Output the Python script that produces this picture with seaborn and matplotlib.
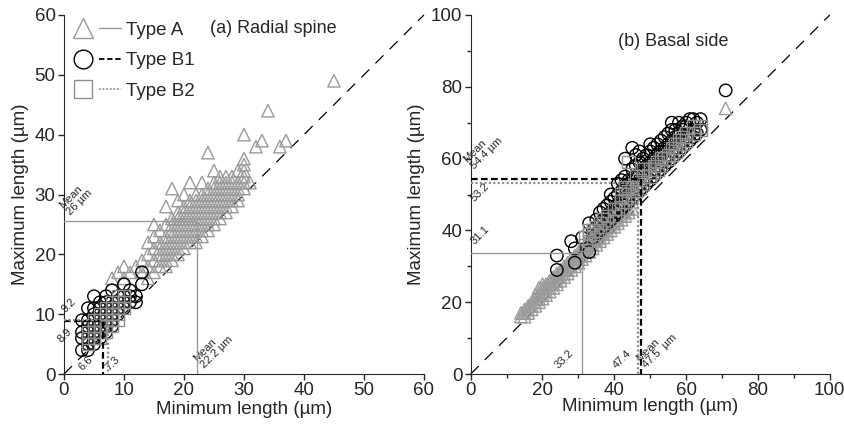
"""
Min vs max length scatter, radial spine (a) and basal side (b).
Type A / B1 / B2 with mean lines.
"""
import pandas as pd
import seaborn as sns
import matplotlib.pyplot as plt
from matplotlib.lines import Line2D
from matplotlib.legend_handler import HandlerTuple

# (a) Radial spine: min length columns and the max lengths read at each column
a_A_min = [8, 9, 10, 11, 12, 13, 14, 15, 16, 17, 18, 19, 20, 21, 22, 23, 24, 25, 26,
           27, 28, 29, 30, 31, 32, 33, 34, 36, 37, 45]
a_A_max = [[16], [17], [16, 18], [17], [18], [17, 19], [16, 18, 20, 22],
           [17, 19, 21, 23, 25], [18, 19, 20, 21, 22, 24],
           [18, 19, 20, 21, 22, 23, 25, 28], [19, 20, 21, 22, 23, 24, 25, 26, 31],
           [20, 21, 22, 23, 24, 25, 26, 27, 29], [21, 22, 23, 24, 25, 26, 27, 28, 30],
           [22, 23, 24, 25, 26, 27, 28, 29, 32], [22, 23, 24, 25, 26, 27, 28, 29, 30],
           [23, 24, 25, 26, 27, 28, 29, 30, 32], [24, 25, 26, 27, 28, 29, 30, 31, 37],
           [25, 26, 27, 28, 29, 30, 31, 32, 34], [26, 27, 28, 29, 30, 31, 32, 33],
           [27, 28, 29, 30, 31, 32, 33], [28, 29, 30, 31, 32, 33], [29, 30, 31, 32, 34],
           [31, 32, 33, 34, 35, 36, 40], [32], [38], [39], [44], [38], [39], [49]]

a_B1_min = [3, 4, 5, 6, 7, 8, 9, 10, 11, 12, 13]
a_B1_max = [[4, 6, 7, 9], [4, 5, 6, 7, 8, 9, 11], [5, 6, 7, 8, 9, 10, 11, 13],
            [6, 7, 8, 9, 10, 11, 12], [7, 8, 9, 10, 11, 12, 13], [8, 9, 10, 11, 12, 14],
            [10, 11, 12, 13], [11, 12, 13, 15], [12, 13, 14], [12, 13], [15, 17]]

a_B2_min = [4, 5, 6, 7, 8, 9, 10]
a_B2_max = [[5, 6, 7], [6, 7, 8, 9], [6, 7, 8, 9, 10], [7, 8, 9, 10, 11],
            [8, 9, 10, 11, 12], [9, 10, 11, 12, 13], [11, 12, 13]]

# (b) Basal side
b_A_min = [14, 15, 16, 17, 18, 19, 20, 21, 22, 23, 24, 25, 26, 27, 28, 29, 30, 31, 32,
           33, 34, 35, 36, 37, 38, 39, 40, 41, 42, 43, 44, 45, 71]
b_A_max = [[16, 17], [16, 17, 18], [17, 18, 19], [18, 19, 20], [19, 20, 21, 22],
           [20, 21, 22, 24], [21, 22, 23, 24, 25], [22, 23, 24, 25], [23, 24, 25, 26],
           [24, 25, 26, 27], [25, 26, 27, 28], [26, 27, 28, 29], [27, 28, 29, 30],
           [28, 29, 30, 31], [29, 30, 31, 32], [30, 31, 32, 33], [31, 32, 33, 34],
           [32, 33, 34, 35], [33, 34, 35, 36], [34, 35, 36, 37], [35, 36, 37, 38],
           [36, 37, 38, 39], [37, 38, 39, 40], [38, 39, 40, 41], [39, 40, 41, 42],
           [40, 41, 42, 43], [41, 42, 43], [42, 43, 44], [43, 44, 45], [44, 45, 46],
           [45, 46], [46, 48], [74]]

b_B1_min = [24, 28, 29, 31, 33, 34, 35, 36, 37, 38, 39, 40, 41, 42, 43, 44, 45, 46, 47,
            48, 49, 50, 51, 52, 53, 54, 55, 56, 57, 58, 59, 60, 61, 62, 63, 64, 71]
b_B1_max = [[29, 33], [37], [31, 35], [38], [34, 42], [38, 40], [39, 41, 43],
            [40, 42, 45], [41, 43, 46], [42, 44, 47], [43, 45, 48, 50],
            [44, 46, 49], [45, 47, 50, 53], [46, 48, 51, 54],
            [47, 49, 52, 55, 60], [48, 50, 53, 54], [49, 51, 54, 57, 63],
            [50, 52, 55, 58, 61], [51, 53, 56, 59, 62], [52, 54, 57, 60],
            [53, 55, 58, 61], [54, 56, 59, 62, 64], [55, 57, 60, 63],
            [56, 58, 61, 64], [57, 59, 62, 65], [58, 60, 63, 66],
            [59, 61, 64, 67], [60, 62, 65, 68, 70], [61, 63, 66, 68],
            [62, 64, 67, 70], [63, 65, 68, 69], [64, 66, 69, 70], [65, 67, 71],
            [66, 68, 71], [67, 70], [68, 71], [79]]

b_B2_min = [32, 33, 34, 35, 36, 37, 38, 40, 41, 42, 43, 44, 45, 46, 47, 48, 50, 51, 52,
            53, 54, 55, 56, 57, 58, 59, 60, 62, 64]
b_B2_max = [[36, 38], [37, 39, 40], [38, 40], [39, 41], [40, 42], [41, 43], [42, 44],
            [44, 46], [46], [46, 48, 50], [48, 52], [49, 51, 59], [50, 52],
            [51, 53, 55], [52, 54], [53, 55, 57], [55, 57], [56, 58], [57, 59], [58, 60],
            [60], [60, 61], [61, 63], [62, 64], [63, 65], [64, 66], [65, 67], [67, 69],
            [68, 69]]

# mean lines (x, y) per type, as drawn
a_means = {'A': (22.2, 25.5), 'B1': (6.5, 8.8), 'B2': (7.4, 9.1)}
b_means = {'A': (31.1, 33.6), 'B1': (47.4, 54.3), 'B2': (46.7, 53.1)}

GREY = '#9a9a9a'
STYLE = {
    'A': dict(marker='^', color=GREY, ls='-'),
    'B1': dict(marker='o', color='black', ls=(0, (3, 1.5))),
    'B2': dict(marker='s', color='#8f8f8f', ls=(0, (1, 1))),
}


def expand(mins, maxs, typ):
    rows = [(x, y, typ) for x, ys in zip(mins, maxs) for y in ys]
    return pd.DataFrame(rows, columns=['min', 'max', 'type'])


def draw_panel(ax, parts, means, lim):
    for typ, df in parts:
        st = STYLE[typ]
        sns.scatterplot(data=df, x='min', y='max', ax=ax, marker=st['marker'], s=80,
                        facecolor='none', edgecolor=st['color'], linewidth=1.0,
                        legend=False, zorder=3)
    ax.plot([0, lim], [0, lim], color='black', lw=0.9, ls=(0, (9, 7)), zorder=2,
            clip_on=False)
    for typ, (mx, my) in means.items():
        st = STYLE[typ]
        lw = 1.0 if typ == 'A' else 1.6
        ax.plot([0, mx, mx], [my, my, 0], color=st['color'], ls=st['ls'], lw=lw, zorder=4)
    ax.set_xlim(0, lim)
    ax.set_ylim(0, lim)
    ax.set_xlabel('Minimum length (µm)', fontsize=13.5, labelpad=1)
    ax.set_ylabel('Maximum length (µm)', fontsize=13.5, labelpad=4)
    ax.tick_params(labelsize=13.5, length=4, width=1, pad=2)
    sns.despine(ax=ax)


sns.set_style('ticks')
plt.rcParams['font.family'] = ['Liberation Sans', 'DejaVu Sans']

fig = plt.figure(figsize=(8.45, 4.28), dpi=100)
ax1 = fig.add_axes([0.0757, 0.126, 0.426, 0.839])
ax2 = fig.add_axes([0.557, 0.126, 0.425, 0.839])

draw_panel(ax1, [('A', expand(a_A_min, a_A_max, 'A')),
                 ('B1', expand(a_B1_min, a_B1_max, 'B1')),
                 ('B2', expand(a_B2_min, a_B2_max, 'B2'))], a_means, 60)
ax1.set_xticks(range(0, 61, 10))
ax1.set_yticks(range(0, 61, 10))

draw_panel(ax2, [('A', expand(b_A_min, b_A_max, 'A')),
                 ('B1', expand(b_B1_min, b_B1_max, 'B1')),
                 ('B2', expand(b_B2_min, b_B2_max, 'B2'))], b_means, 100)
ax2.set_xticks(range(0, 101, 20))
ax2.set_yticks(range(0, 101, 20))
ax2.set_xticks(range(10, 100, 20), minor=True)
ax2.set_yticks(range(10, 100, 20), minor=True)
ax2.tick_params(which='minor', length=3, width=1)
ax2.xaxis.labelpad = -1

ax1.text(24.3, 57.8, '(a) Radial spine', fontsize=13, ha='left', va='center')
ax2.text(41, 92.5, '(b) Basal side', fontsize=13, ha='left', va='center')

# rotated mean labels
lab = dict(fontsize=8, rotation=45, rotation_mode='anchor', ha='left', va='bottom',
           linespacing=1.0)
ax1.text(1.3, 26.2, 'Mean\n26 µm', **lab)
ax1.text(23.6, 0.6, 'Mean\n22.2 µm', **lab)
ax1.text(0.5, 10.0, '9.2', **lab)
ax1.text(-0.2, 4.9, '8.9', **lab)
ax1.text(3.3, 0.3, '6.6', **lab)
ax1.text(7.8, 0.3, '7.3', **lab)

ax2.text(1.5, 56.5, 'Mean\n54.4 µm', **lab)
ax2.text(1.5, 47.5, '53.2', **lab)
ax2.text(1.5, 35.5, '31.1', **lab)
ax2.text(25.0, 1.0, '33.2', **lab)
ax2.text(41.0, 1.0, '47.4', **lab)
ax2.text(49.5, 1.0, 'Mean\n47.5  µm', **lab)

handles = []
for typ in ['A', 'B1', 'B2']:
    st = STYLE[typ]
    mk = Line2D([], [], ls='none', marker=st['marker'],
                markersize=15 if typ == 'A' else 13.5,
                markerfacecolor='none', markeredgecolor=st['color'], markeredgewidth=1.0)
    ln = Line2D([], [], color=st['color'], ls=st['ls'], lw=1.3 if typ != 'A' else 1.0)
    handles.append((mk, ln))
ax1.legend(handles, ['Type A', 'Type B1', 'Type B2'], loc='upper left',
           bbox_to_anchor=(0.022, 0.982), frameon=False, fontsize=13.5,
           borderaxespad=0, borderpad=0,
           handler_map={tuple: HandlerTuple(ndivide=None, pad=0.3)},
           handlelength=2.6, handletextpad=0.3, labelspacing=0.72)

fig.savefig('out.png', dpi=100)
